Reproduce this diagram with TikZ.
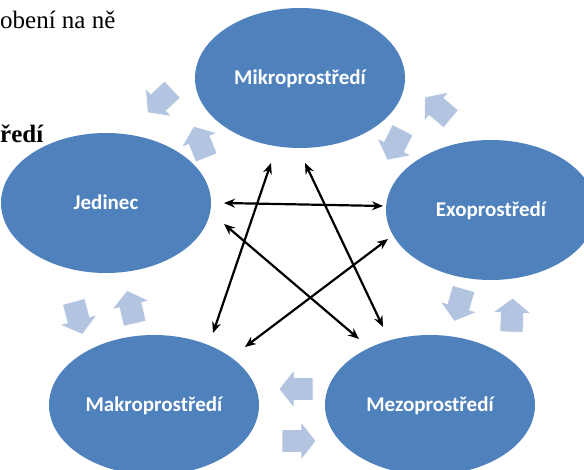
\documentclass[tikz,border=0pt]{standalone}
\usepackage{fontspec}
\setmainfont{Liberation Serif}
\newfontfamily\labelfont{Carlito}
\usetikzlibrary{shapes.geometric,arrows.meta}
\definecolor{blobblue}{RGB}{79,129,189}
\definecolor{lightarrow}{RGB}{179,196,224}
\tikzset{
  blob/.style={ellipse, fill=blobblue, minimum width=210pt, minimum height=140pt,
    inner sep=0pt, text=white, font=\labelfont\bfseries\fontsize{21}{24}\selectfont,
    text height=13.5pt, text depth=0pt},
  link/.style={{Stealth[length=11pt,width=9pt]}-{Stealth[length=11pt,width=9pt]},
    line width=2.2pt, black},
  bgtext/.style={inner sep=0pt, font=\fontsize{25}{30}\selectfont},
  pics/cyclearrow/.style={code={
    \fill[lightarrow, draw=white, line width=0.6pt]
      (-17,-11.5) -- (2,-11.5) -- (2,-19) -- (17,0) -- (2,19) -- (2,11.5) -- (-17,11.5) -- cycle;}}
}
\begin{document}
\begin{tikzpicture}[x=1pt,y=-1pt]
\useasboundingbox (0,0) rectangle (584,470);
\clip (0,0) rectangle (584,470);
\fill[white] (0,0) rectangle (584,470);

% background text fragments
\node[bgtext, anchor=base west] (frag1) at (0,29) {obení na ně};
\node[bgtext, anchor=base west, font=\bfseries\fontsize{25}{30}\selectfont] (frag2) at (0,143) {ředí};

% ellipses
\node[blob] (mikro) at (300,78) {Mikroprostředí};
\node[blob] (jed) at (106,203) {Jedinec};
\node[blob] (exo) at (491,210) {Exoprostředí};
\node[blob] (makro) at (154,405) {Makroprostředí};
\node[blob] (mezo) at (430,405) {Mezoprostředí};

% light block arrows
\pic[rotate=223] at (160,101) {cyclearrow};
\pic[rotate=112] at (200,142) {cyclearrow};
\pic[rotate=140] at (438,108) {cyclearrow};
\pic[rotate=243] at (395,145) {cyclearrow};
\pic[rotate=254] at (459,305) {cyclearrow};
\pic[rotate=88]  at (512,315) {cyclearrow};
\pic[rotate=180] at (296,389) {cyclearrow};
\pic[rotate=0]   at (299,441) {cyclearrow};
\pic[rotate=103] at (131,307) {cyclearrow};
\pic[rotate=-75] at (78,318) {cyclearrow};

% black connector end points
\coordinate (jA) at (224,203);
\coordinate (eA) at (383,206);
\coordinate (mA) at (271,163);
\coordinate (kA) at (213,333);
\coordinate (mB) at (305,163);
\coordinate (zA) at (383,327);
\coordinate (jB) at (224,224);
\coordinate (zB) at (359,339);
\coordinate (eB) at (388,239);
\coordinate (kB) at (245,347);

\draw[link] (jA) -- (eA);
\draw[link] (mA) -- (kA);
\draw[link] (mB) -- (zA);
\draw[link] (jB) -- (zB);
\draw[link] (eB) -- (kB);
\end{tikzpicture}
\end{document}
